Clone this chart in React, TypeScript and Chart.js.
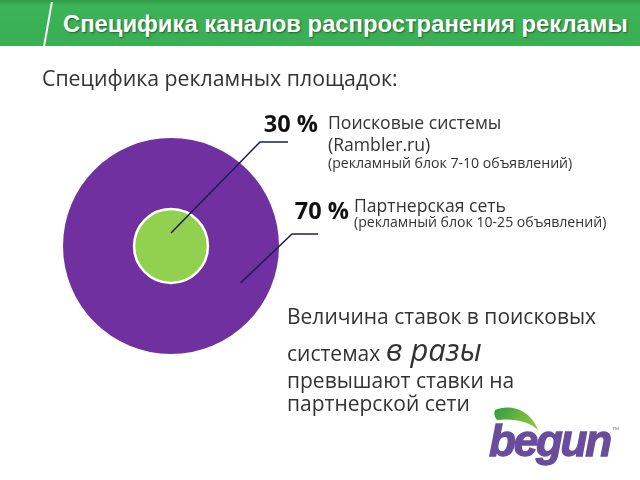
import React, { useEffect, useRef } from "react";
import { Chart, registerables } from "chart.js";

Chart.register(...registerables);

// ---- data ----
const categories = ["Поисковые системы", "Партнерская сеть"];
const shares = [30, 70];
const nameLines = [["Поисковые системы", "(Rambler.ru)"], ["Партнерская сеть"]];
const noteLines = ["(рекламный блок 7-10 объявлений)", "(рекламный блок 10-25 объявлений)"];
const sliceColors = ["#92d050", "#7030a0"];
// ring order: outer ring first
const ringOrder = [1, 0];
const ringWeights = [1, 0.52];

const headerTitle = "Специфика каналов распространения рекламы";
const subTitle = "Специфика рекламных площадок:";

// label layout per category
const labelLayout = [
  { angle: -Math.PI / 2, frac: 0.35, elbow: [260, 142], end: [288, 142], pctX: 318, pctY: 125, textX: 328, nameY: [124, 146], noteY: 164 },
  { angle: 0.487, frac: 0.59, elbow: [292, 234], end: [318, 234], pctX: 349, pctY: 212, textX: 354, nameY: [207], noteY: 223 },
];

const textFont = "'Open Sans', 'Noto Sans', sans-serif";

const leaderPlugin = {
  id: "leaderLabels",
  afterDatasetsDraw(chart: any) {
    const ctx = chart.ctx as CanvasRenderingContext2D;
    ctx.save();
    chart.data.datasets.forEach((ds: any, di: number) => {
      const meta = chart.getDatasetMeta(di);
      const ci = ringOrder[di];
      const el: any = meta.data[ci];
      if (!el) return;
      if (el.innerRadius === 0) {
        ctx.beginPath();
        ctx.arc(el.x, el.y, el.outerRadius, 0, Math.PI * 2);
        ctx.strokeStyle = "#ffffff";
        ctx.lineWidth = 2.5;
        ctx.stroke();
      }
    });
    chart.data.datasets.forEach((ds: any, di: number) => {
      const meta = chart.getDatasetMeta(di);
      const ci = ringOrder[di];
      const el: any = meta.data[ci];
      if (!el) return;
      const L = labelLayout[ci];
      const r = el.innerRadius + (el.outerRadius - el.innerRadius) * L.frac;
      const ax = el.x + Math.cos(L.angle) * r;
      const ay = el.y + Math.sin(L.angle) * r;
      ctx.beginPath();
      ctx.moveTo(ax, ay);
      ctx.lineTo(L.elbow[0], L.elbow[1]);
      ctx.lineTo(L.end[0], L.end[1]);
      ctx.strokeStyle = "#1c1c5a";
      ctx.lineWidth = 1.5;
      ctx.stroke();

      ctx.fillStyle = "#111111";
      ctx.font = `bold 23.5px ${textFont}`;
      ctx.textAlign = "right";
      ctx.textBaseline = "middle";
      ctx.fillText(`${shares[ci]} %`, L.pctX, L.pctY);

      ctx.fillStyle = "#333333";
      ctx.textAlign = "left";
      ctx.font = `17.6px ${textFont}`;
      nameLines[ci].forEach((t, k) => ctx.fillText(t, L.textX, L.nameY[k]));
      ctx.font = `14.1px ${textFont}`;
      ctx.fillText(noteLines[ci], L.textX, L.noteY);
    });
    ctx.restore();
  },
};

export default function App() {
  const ref = useRef<HTMLCanvasElement>(null);
  useEffect(() => {
    if (!ref.current) return;
    const chart = new Chart(ref.current, {
      type: "doughnut",
      data: {
        labels: categories,
        datasets: ringOrder.map((ci, ri) => ({
          label: categories[ci],
          data: shares.map((v, j) => (j === ci ? v : 0)),
          backgroundColor: sliceColors,
          borderWidth: 0,
          hoverOffset: 0,
          weight: ringWeights[ri],
        })),
      },
      options: {
        responsive: false,
        animation: false,
        events: [],
        cutout: 0,
        layout: { padding: { left: 63, top: 138, right: 361, bottom: 126 } },
        plugins: { legend: { display: false }, tooltip: { enabled: false }, title: { display: false } },
      } as any,
      plugins: [leaderPlugin],
    });
    return () => chart.destroy();
  }, []);

  const para: React.CSSProperties = {
    position: "absolute",
    left: 287,
    fontFamily: textFont,
    fontSize: 21,
    color: "#333",
    whiteSpace: "nowrap",
    lineHeight: 1,
  };

  return (
    <div style={{ position: "fixed", left: 0, top: 0, width: 640, height: 480, background: "#fff", overflow: "hidden" }}>
      <canvas ref={ref} width={640} height={480} style={{ position: "absolute", left: 0, top: 0 }} />
      <div
        style={{
          position: "absolute",
          left: 0,
          top: 0,
          width: 640,
          height: 46,
          background: "linear-gradient(#2f9a45 0%, #3db457 12%, #39ae52 100%)",
        }}
      />
      <div
        style={{
          position: "absolute",
          left: 47,
          top: 2,
          width: 2,
          height: 44,
          background: "#fff",
          transform: "skewX(-10deg)",
        }}
      />
      <div
        style={{
          position: "absolute",
          left: 63,
          top: 0,
          height: 46,
          lineHeight: "48px",
          fontFamily: "'Liberation Sans', Arial, sans-serif",
          fontWeight: "bold",
          fontSize: 23.8,
          color: "#fff",
          whiteSpace: "nowrap",
          textShadow: "1px 1px 2px rgba(0,0,0,0.45)",
        }}
      >
        {headerTitle}
      </div>
      <div
        style={{
          position: "absolute",
          left: 42,
          top: 67,
          fontFamily: textFont,
          fontSize: 21.3,
          color: "#333",
          whiteSpace: "nowrap",
          lineHeight: 1,
        }}
      >
        {subTitle}
      </div>
      <div style={{ ...para, top: 306 }}>Величина ставок в поисковых</div>
      <div style={{ ...para, top: 334 }}>
        системах{" "}
        <span style={{ fontStyle: "italic", fontSize: 31 }}>в разы</span>
      </div>
      <div style={{ ...para, top: 370 }}>превышают ставки на</div>
      <div style={{ ...para, top: 393 }}>партнерской сети</div>
      <svg width={60} height={34} style={{ position: "absolute", left: 492, top: 402 }}>
        <defs>
          <linearGradient id="leaf" x1="0" y1="0" x2="1" y2="0.4">
            <stop offset="0" stopColor="#2f9a40" />
            <stop offset="1" stopColor="#8cc63f" />
          </linearGradient>
        </defs>
        <path d="M3 8 C 16 2, 38 6, 46 28 C 38 20, 22 16, 5 18 C 2 14, 2 11, 3 8 Z" fill="url(#leaf)" />
      </svg>
      <div
        style={{
          position: "absolute",
          left: 489,
          top: 419,
          fontFamily: "'Liberation Sans', Arial, sans-serif",
          fontWeight: "bold",
          fontStyle: "italic",
          fontSize: 44,
          letterSpacing: -2.2,
          color: "#6a4c9c",
          WebkitTextStroke: "1.3px #6a4c9c",
          lineHeight: 1,
        }}
      >
        begun
      </div>
      <div style={{ position: "absolute", left: 612, top: 426, fontSize: 7, fontFamily: "sans-serif", color: "#777" }}>™</div>
    </div>
  );
}
